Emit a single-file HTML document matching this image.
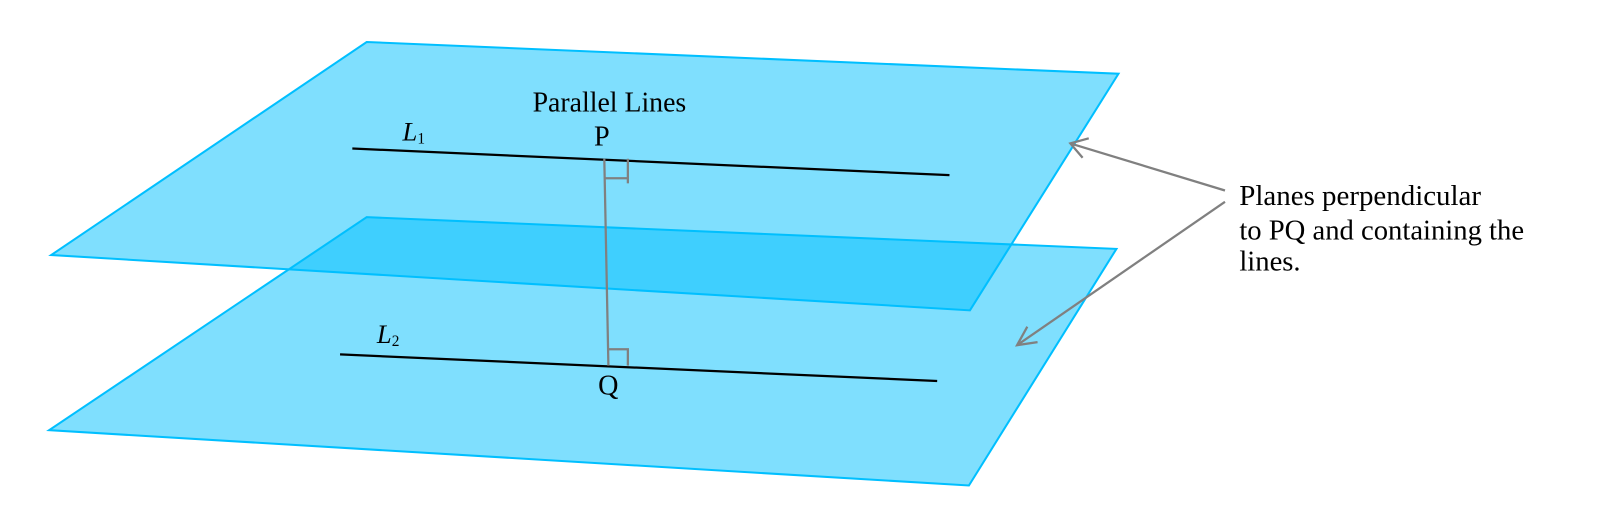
<!DOCTYPE html>
<html><head><style>html,body{margin:0;padding:0;background:#fff;width:1606px;height:528px;overflow:hidden}</style></head>
<body>
<svg width="1606" height="528" viewBox="0 0 1568 515.5" xmlns="http://www.w3.org/2000/svg" font-family="'Liberation Serif', serif">
<polygon points="358,212 1090,243 946,474 48,420" fill="#00bffd" fill-opacity="0.5" stroke="#00bfff" stroke-width="2"/>
<polygon points="358,41 1092,72 947,303 50,249" fill="#00bffd" fill-opacity="0.5" stroke="#00bfff" stroke-width="2"/>
<line x1="344" y1="145" x2="927" y2="171" stroke="#000" stroke-width="2.2"/>
<line x1="332" y1="346" x2="915" y2="372" stroke="#000" stroke-width="2.2"/>
<g stroke="#808080" stroke-width="2.2" fill="none">
<line x1="590" y1="155" x2="594" y2="357"/>
<polyline points="590,174 613,174"/><line x1="613" y1="155" x2="613" y2="179"/>
<polyline points="594,341 613,341 613,357"/>
<line x1="1196" y1="186" x2="1045" y2="140"/>
<polyline points="1063,135 1045,140 1057,154"/>
<line x1="1196" y1="197" x2="993" y2="337"/>
<polyline points="1003,319 993,337 1013,334"/>
</g>
<g font-size="27.5" fill="#000">
<text x="520" y="109" textLength="150" lengthAdjust="spacingAndGlyphs">Parallel Lines</text>
<text x="580" y="142">P</text>
<text x="584" y="385">Q</text>
<text x="393" y="137" font-style="italic" font-size="26">L<tspan font-size="15" font-style="normal" dy="3">1</tspan></text>
<text x="368" y="335" font-style="italic" font-size="26">L<tspan font-size="15" font-style="normal" dy="3">2</tspan></text>
<text x="1210" y="200" font-size="28" textLength="236" lengthAdjust="spacingAndGlyphs">Planes perpendicular</text>
<text x="1210" y="234" font-size="28" textLength="278" lengthAdjust="spacingAndGlyphs">to PQ and containing the</text>
<text x="1210" y="264" font-size="28">lines.</text>
</g>
</svg>
</body></html>
